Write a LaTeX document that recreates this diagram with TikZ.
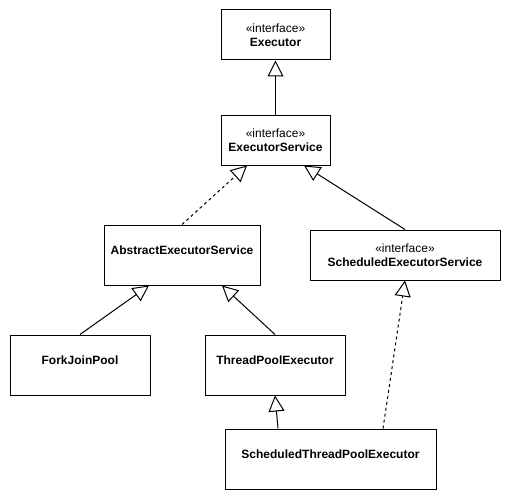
\documentclass[tikz,border=0pt]{standalone}
\usepackage{fontspec}
\setmainfont{Liberation Sans}
\usetikzlibrary{arrows.meta}

\begin{document}
\begin{tikzpicture}[x=1pt, y=-1pt,
    classbox/.style={draw=black, line width=1pt, fill=white, inner sep=0pt},
    classname/.style={anchor=center, align=center, font=\fontsize{12}{14}\selectfont, inner sep=0pt},
    inherit/.style={line width=1pt, -{Triangle[open, length=16pt, width=16pt]}},
    realize/.style={inherit, dash pattern=on 3pt off 3pt}]
    \useasboundingbox (0,0) rectangle (511,500);
    % Interfaces
    \node[classbox, minimum width=109pt, minimum height=50pt] (exec) at (275.5, 35) {};
    \node[classname] (execname) at ([yshift=-26pt]exec.north) {«interface»\\\textbf{Executor}};
    \node[classbox, minimum width=109pt, minimum height=49pt] (esvc) at (275.5, 140.5) {};
    \node[classname] (esvcname) at ([yshift=-24.5pt]esvc.north) {«interface»\\\textbf{ExecutorService}};
    \node[classbox, minimum width=190pt, minimum height=50pt] (ses) at (405, 255) {};
    \node[classname] (sesname) at ([yshift=-26pt]ses.north) {«interface»\\\textbf{ScheduledExecutorService}};
    % Classes
    \node[classbox, minimum width=156pt, minimum height=60pt] (aes) at (182, 255) {};
    \node[classname] (aesname) at ([yshift=-26pt]aes.north) {\textbf{AbstractExecutorService}};
    \node[classbox, minimum width=140pt, minimum height=60pt] (fjp) at (80, 365) {};
    \node[classname] (fjpname) at ([yshift=-26pt]fjp.north) {\textbf{ForkJoinPool}};
    \node[classbox, minimum width=140pt, minimum height=60pt] (tpe) at (275, 365) {};
    \node[classname] (tpename) at ([yshift=-26pt]tpe.north) {\textbf{ThreadPoolExecutor}};
    \node[classbox, minimum width=211pt, minimum height=60pt] (stpe) at (330.5, 459) {};
    \node[classname] (stpename) at ([yshift=-26pt]stpe.north) {\textbf{ScheduledThreadPoolExecutor}};
    % Generalisation and realisation
    \draw[inherit] (esvc.north) -- (exec.south);
    \draw[realize] (aes.north) -- ([xshift=-28.5pt]esvc.south);
    \draw[inherit] (ses.north) -- ([xshift=28.5pt]esvc.south);
    \draw[inherit] (fjp.north) -- ([xshift=-33pt]aes.south);
    \draw[inherit] (tpe.north) -- ([xshift=40pt]aes.south);
    \draw[inherit] ([xshift=-52.5pt]stpe.north) -- (tpe.south);
    \draw[realize] ([xshift=52.5pt]stpe.north) -- (ses.south);
\end{tikzpicture}
\end{document}
